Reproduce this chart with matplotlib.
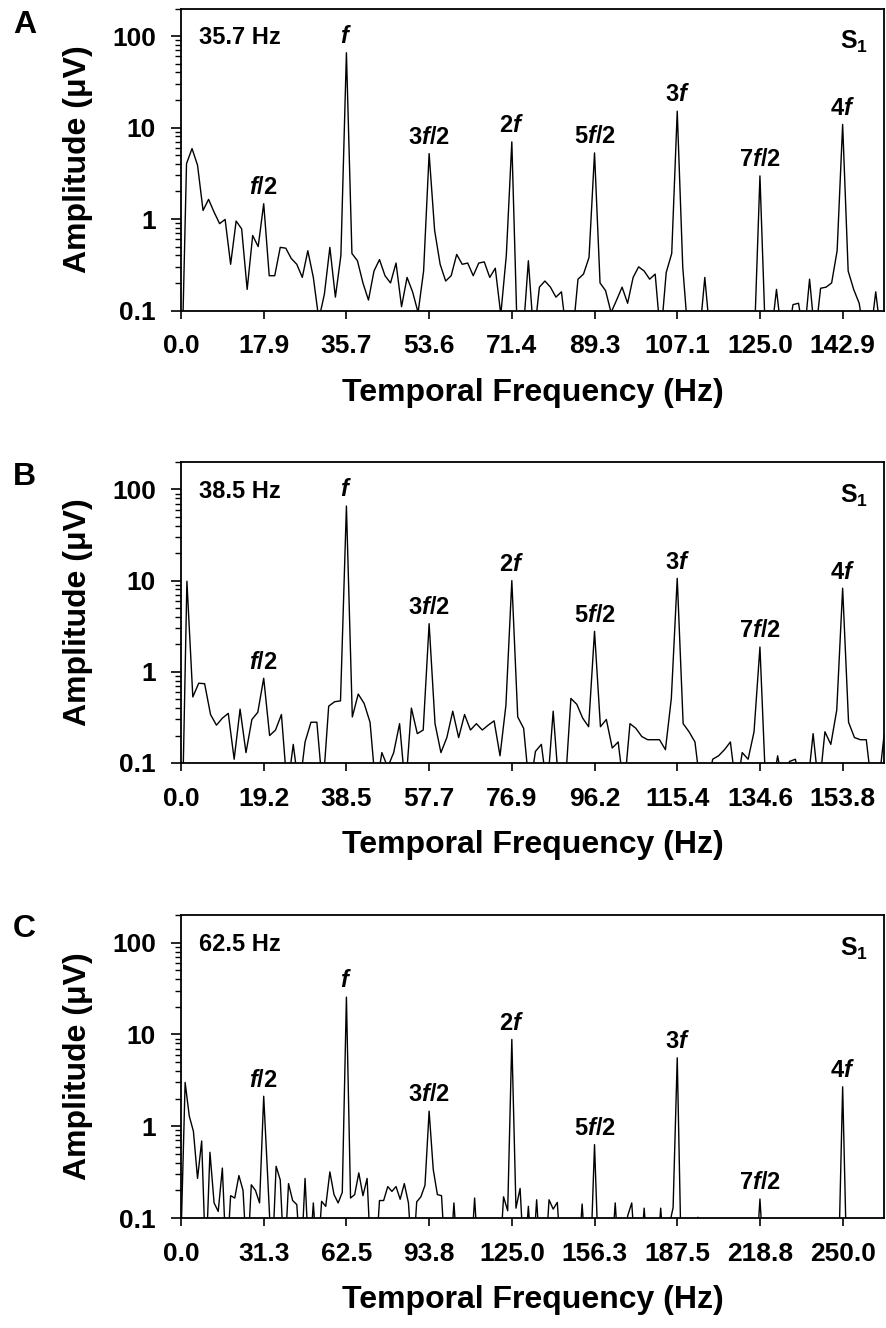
import numpy as np
import matplotlib
matplotlib.use('Agg')
import matplotlib.pyplot as plt
from matplotlib.ticker import LogLocator, NullFormatter

plt.rcParams['font.family'] = ['Liberation Sans', 'DejaVu Sans']
plt.rcParams['font.weight'] = 'bold'
plt.rcParams['mathtext.fontset'] = 'custom'
plt.rcParams['mathtext.rm'] = 'Liberation Sans:bold'
plt.rcParams['mathtext.it'] = 'Liberation Sans:bold:italic'
plt.rcParams['mathtext.bf'] = 'Liberation Sans:bold'

# stimulus frequencies (Hz) and FFT bins per f/2
stim_a, bins_a = 35.714, 15
stim_b, bins_b = 38.462, 14
stim_c, bins_c = 62.5, 20

# amplitude spectra (uV), one value per frequency bin
amp_a = [0.01, 4.03, 5.89, 3.87, 1.24, 1.64, 1.19, 0.89, 0.99, 0.32,
         0.95, 0.78, 0.17, 0.66, 0.50, 1.47, 0.24, 0.24, 0.49, 0.48,
         0.37, 0.32, 0.23, 0.45, 0.23, 0.08, 0.15, 0.49, 0.14, 0.40,
         65.7, 0.42, 0.35, 0.20, 0.13, 0.27, 0.36, 0.24, 0.20, 0.33,
         0.11, 0.23, 0.16, 0.095, 0.27, 5.19, 0.75, 0.32, 0.21, 0.24,
         0.41, 0.32, 0.33, 0.24, 0.33, 0.34, 0.23, 0.29, 0.09, 0.40,
         6.97, 0.05, 0.05, 0.35, 0.05, 0.18, 0.21, 0.18, 0.14, 0.16,
         0.05, 0.05, 0.22, 0.25, 0.38, 5.28, 0.20, 0.165, 0.095, 0.13,
         0.18, 0.12, 0.23, 0.30, 0.27, 0.22, 0.25, 0.05, 0.26, 0.42,
         15.1, 0.30, 0.05, 0.05, 0.05, 0.23, 0.05, 0.05, 0.05, 0.05,
         0.05, 0.05, 0.05, 0.05, 0.05, 2.96, 0.05, 0.05, 0.17, 0.05,
         0.05, 0.116, 0.12, 0.05, 0.22, 0.05, 0.175, 0.18, 0.20, 0.45,
         10.8, 0.27, 0.17, 0.12, 0.05, 0.05, 0.16, 0.05]

amp_b = [0.005, 9.84, 0.53, 0.75, 0.74, 0.34, 0.26, 0.31, 0.35, 0.11,
         0.39, 0.13, 0.30, 0.36, 0.85, 0.20, 0.23, 0.34, 0.05, 0.16,
         0.05, 0.17, 0.28, 0.28, 0.05, 0.42, 0.47, 0.48, 65.8, 0.32,
         0.57, 0.45, 0.28, 0.05, 0.13, 0.09, 0.13, 0.27, 0.05, 0.40,
         0.21, 0.23, 3.37, 0.27, 0.13, 0.19, 0.37, 0.19, 0.34, 0.23,
         0.27, 0.23, 0.26, 0.29, 0.12, 0.43, 10.0, 0.32, 0.24, 0.05,
         0.134, 0.16, 0.05, 0.37, 0.05, 0.05, 0.51, 0.44, 0.31, 0.25,
         2.78, 0.25, 0.30, 0.146, 0.17, 0.05, 0.27, 0.24, 0.195, 0.18,
         0.18, 0.18, 0.14, 0.51, 10.6, 0.27, 0.22, 0.17, 0.05, 0.05,
         0.11, 0.12, 0.14, 0.17, 0.05, 0.13, 0.11, 0.22, 1.87, 0.05,
         0.05, 0.12, 0.05, 0.104, 0.11, 0.05, 0.05, 0.21, 0.05, 0.22,
         0.16, 0.38, 8.25, 0.28, 0.19, 0.18, 0.18, 0.05, 0.05, 0.20]

amp_c = [0.06, 3.0, 1.29, 0.88, 0.27, 0.69, 0.03, 0.52, 0.146, 0.118,
         0.35, 0.03, 0.175, 0.165, 0.29, 0.20, 0.03, 0.23, 0.20, 0.146,
         2.12, 0.26, 0.03, 0.366, 0.26, 0.03, 0.237, 0.155, 0.14, 0.03,
         0.27, 0.03, 0.146, 0.03, 0.152, 0.134, 0.318, 0.18, 0.146, 0.19,
         25.5, 0.165, 0.18, 0.31, 0.175, 0.27, 0.03, 0.03, 0.155, 0.155,
         0.22, 0.195, 0.22, 0.16, 0.237, 0.146, 0.03, 0.15, 0.17, 0.227,
         1.46, 0.337, 0.18, 0.175, 0.03, 0.03, 0.146, 0.03, 0.03, 0.03,
         0.03, 0.165, 0.03, 0.03, 0.03, 0.03, 0.03, 0.03, 0.17, 0.12,
         8.82, 0.128, 0.21, 0.03, 0.134, 0.03, 0.158, 0.03, 0.03, 0.158,
         0.125, 0.148, 0.03, 0.03, 0.03, 0.03, 0.03, 0.142, 0.03, 0.03,
         0.63, 0.03, 0.03, 0.03, 0.03, 0.146, 0.03, 0.03, 0.105, 0.146,
         0.03, 0.03, 0.128, 0.03, 0.03, 0.03, 0.128, 0.03, 0.08, 0.13,
         5.56, 0.03, 0.03, 0.03, 0.03, 0.102, 0.03, 0.03, 0.03, 0.03,
         0.03, 0.03, 0.03, 0.03, 0.03, 0.03, 0.03, 0.03, 0.03, 0.03,
         0.161, 0.03, 0.03, 0.03, 0.03, 0.03, 0.03, 0.03, 0.03, 0.03,
         0.03, 0.03, 0.03, 0.03, 0.03, 0.03, 0.03, 0.03, 0.03, 0.03,
         2.69, 0.03, 0.03, 0.03, 0.03, 0.03, 0.03, 0.03, 0.03, 0.03,
         0.03]

ticks_a = ['0.0', '17.9', '35.7', '53.6', '71.4', '89.3', '107.1', '125.0', '142.9']
ticks_b = ['0.0', '19.2', '38.5', '57.7', '76.9', '96.2', '115.4', '134.6', '153.8']
ticks_c = ['0.0', '31.3', '62.5', '93.8', '125.0', '156.3', '187.5', '218.8', '250.0']

harmonics = ['$f$/2', '$f$', '3$f$/2', '2$f$', '5$f$/2', '3$f$', '7$f$/2', '4$f$']
freq_text = ['35.7 Hz', '38.5 Hz', '62.5 Hz']
panel_letters = ['A', 'B', 'C']

W, H = 887, 1328
fig = plt.figure(figsize=(W / 100, H / 100), dpi=100)

# axes boxes in pixels: (top, bottom)
boxes = [(8.5, 310.5), (462, 763), (915, 1218)]
left_px, right_px = 181, 884
letter_base = [33, 485, 937]

panels = [(stim_a, bins_a, amp_a, ticks_a),
          (stim_b, bins_b, amp_b, ticks_b),
          (stim_c, bins_c, amp_c, ticks_c)]

for i, (stim, nb, amp, ticks) in enumerate(panels):
    top, bot = boxes[i]
    ax = fig.add_axes([left_px / W, 1 - bot / H,
                       (right_px - left_px) / W, (bot - top) / H])
    df = stim / 2 / nb
    amp = np.array(amp)
    freq = np.arange(len(amp)) * df
    ax.plot(freq, amp, color='black', lw=1.0)

    ax.set_yscale('log')
    ax.set_ylim(0.1, 200)
    ax.set_xlim(0, 8.5 * stim / 2)
    ax.set_yticks([0.1, 1, 10, 100])
    ax.set_yticklabels(['0.1', '1', '10', '100'])
    ax.yaxis.set_minor_locator(LogLocator(base=10, subs=np.arange(2, 10)))
    ax.yaxis.set_minor_formatter(NullFormatter())
    ax.set_xticks(np.arange(9) * stim / 2)
    ax.set_xticklabels(ticks)

    ax.tick_params(axis='both', which='major', direction='out', width=1.2,
                   labelsize=19)
    ax.tick_params(axis='x', length=6, pad=11)
    ax.tick_params(axis='y', length=7, pad=11)
    ax.tick_params(axis='y', which='minor', direction='out', length=4, width=1.0)
    for s in ax.spines.values():
        s.set_linewidth(1.3)

    ax.set_xlabel('Temporal Frequency (Hz)', fontsize=23, fontweight='bold', labelpad=14)
    ax.set_ylabel('Amplitude (μV)', fontsize=23, fontweight='bold', labelpad=14)

    # harmonic labels above each peak
    for h, lab in enumerate(harmonics):
        k = (h + 1) * nb
        ax.annotate(lab, xy=(freq[k], amp[k]), xytext=(0, 7),
                    textcoords='offset points', ha='center', va='baseline',
                    fontsize=17, fontweight='bold')

    ax.text(0.026, 0.882, freq_text[i], transform=ax.transAxes,
            fontsize=17, fontweight='bold', va='baseline', ha='left')
    ax.text(0.977, 0.865, 'S$_\\mathbf{1}$', transform=ax.transAxes,
            fontsize=18, fontweight='bold', va='baseline', ha='right')

    fig.text(13 / W, 1 - letter_base[i] / H, panel_letters[i],
             fontsize=23, fontweight='bold', va='baseline', ha='left')

fig.savefig('out.png', dpi=100)
